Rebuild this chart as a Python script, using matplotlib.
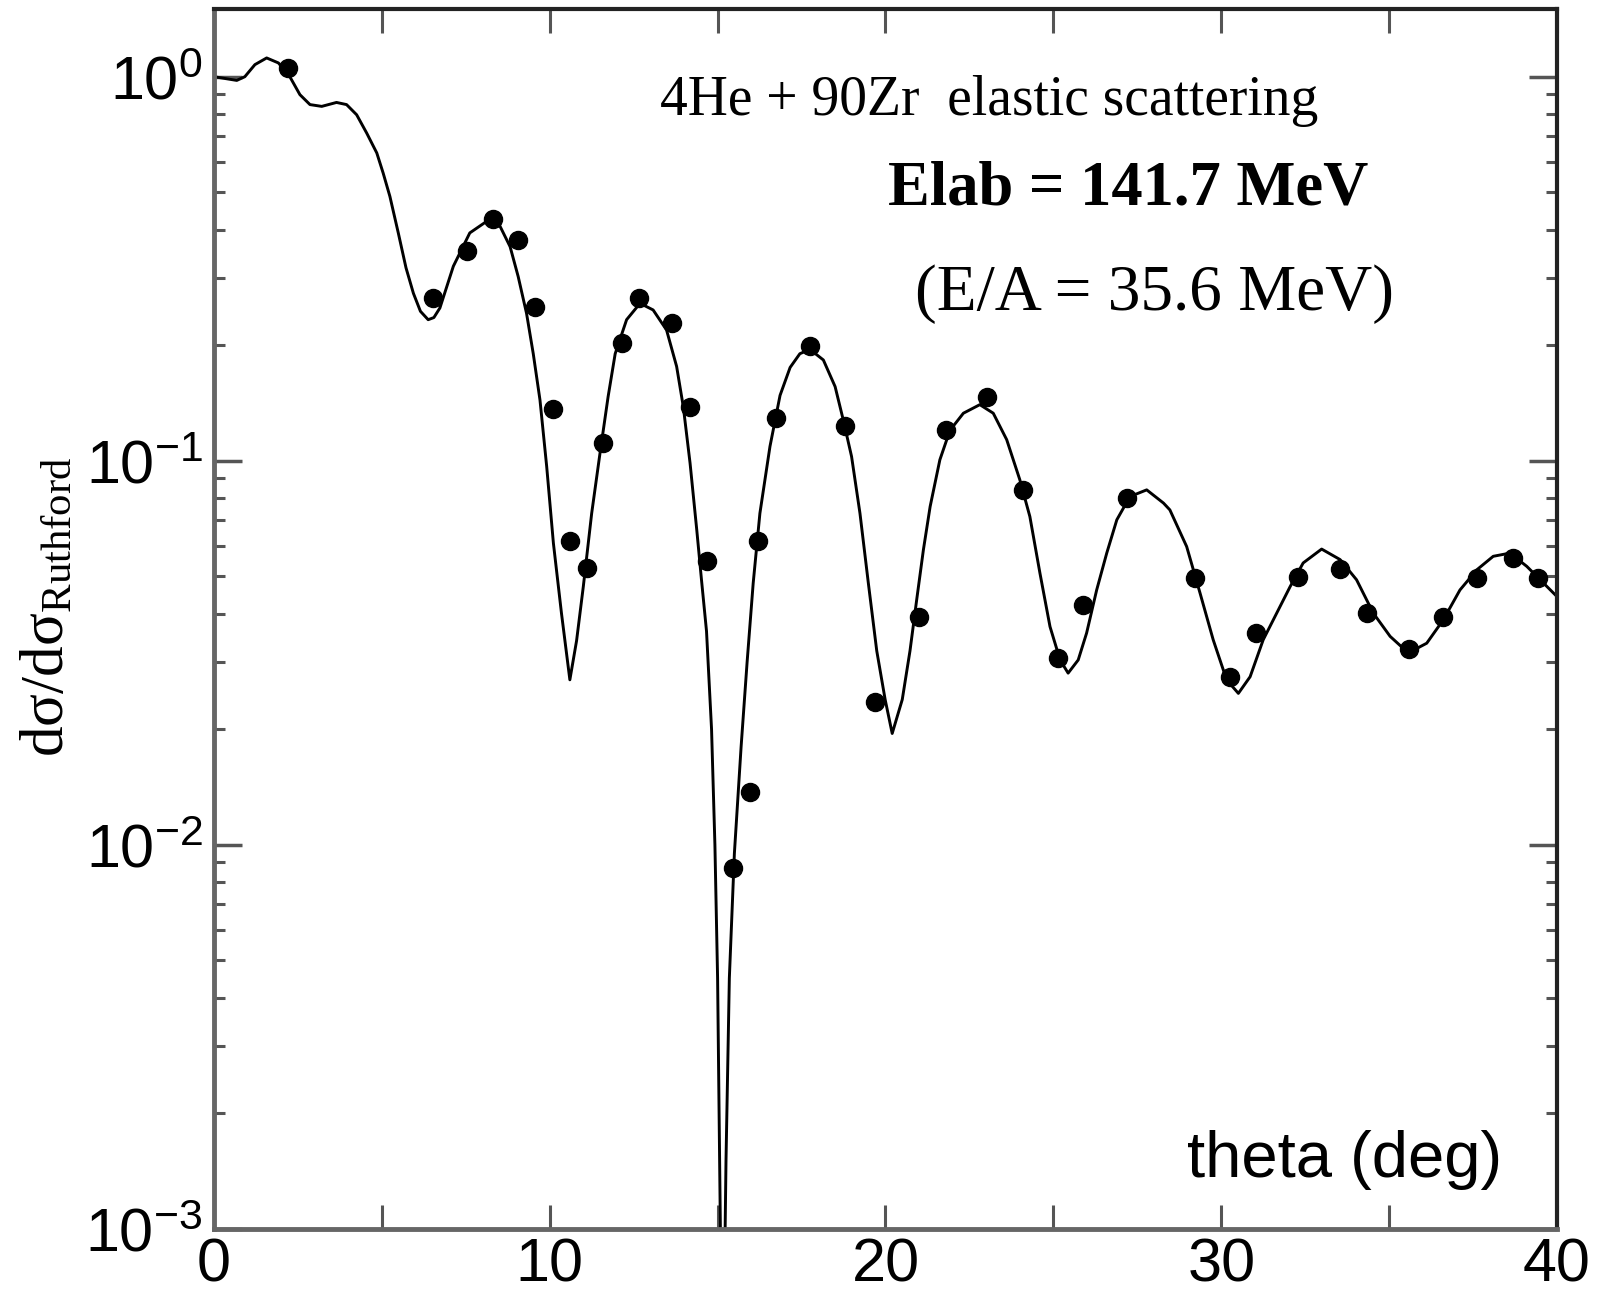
import matplotlib
matplotlib.use("Agg")
import matplotlib.pyplot as plt
from matplotlib.ticker import FixedLocator, FixedFormatter, NullFormatter

plt.rcParams['mathtext.fontset'] = 'custom'
plt.rcParams['mathtext.rm'] = 'Liberation Serif'
plt.rcParams['mathtext.it'] = 'Liberation Serif:italic'
plt.rcParams['mathtext.bf'] = 'Liberation Serif:bold'
plt.rcParams['mathtext.sf'] = 'Liberation Sans'

# experimental data (theta in deg, dsigma/dsigma_Ruthford)
theta_exp = [2.21, 6.53, 7.53, 8.32, 9.06, 9.56, 10.11, 10.60, 11.12, 11.60,
             12.14, 12.66, 13.65, 14.18, 14.67, 15.46, 15.96, 16.21, 16.73, 17.75,
             18.79, 19.70, 21.00, 21.80, 23.03, 24.10, 25.15, 25.89, 27.18, 29.22,
             30.26, 31.03, 32.30, 33.55, 34.33, 35.60, 36.61, 37.63, 38.68, 39.44]
sigma_exp = [1.054, 0.265, 0.351, 0.426, 0.376, 0.251, 0.136, 0.0617, 0.0525, 0.111,
             0.203, 0.265, 0.228, 0.138, 0.0547, 0.0087, 0.0137, 0.0617, 0.129, 0.199,
             0.123, 0.0236, 0.0393, 0.120, 0.147, 0.084, 0.0306, 0.042, 0.080, 0.0495,
             0.0274, 0.0356, 0.0498, 0.0522, 0.0401, 0.0324, 0.0393, 0.0495, 0.0558, 0.0495]

# calculated curve
theta_calc = [0.0, 0.68, 0.92, 1.22, 1.57, 1.92, 2.26, 2.56, 2.86, 3.21, 3.65, 3.95,
              4.25, 4.55, 4.85, 5.04, 5.24, 5.49, 5.72, 5.94, 6.15, 6.38, 6.55, 6.73,
              7.13, 7.62, 8.12, 8.52, 8.82, 9.06, 9.31, 9.51, 9.71, 9.91, 10.11, 10.35,
              10.50, 10.60, 10.80, 11.00, 11.25, 11.50, 11.74, 11.95, 12.29, 12.69,
              13.08, 13.48, 13.78, 13.98, 14.18, 14.38, 14.52, 14.67, 14.82, 14.92,
              15.00, 15.06, 15.15, 15.25, 15.35, 15.50, 15.70, 15.88, 16.06, 16.26,
              16.56, 16.86, 17.16, 17.45, 17.75, 18.15, 18.50, 18.74, 18.99, 19.24,
              19.49, 19.74, 19.99, 20.20, 20.50, 20.73, 20.93, 21.13, 21.33, 21.62,
              21.92, 22.32, 22.81, 23.21, 23.61, 24.00, 24.30, 24.60, 24.90, 25.20,
              25.44, 25.74, 25.99, 26.29, 26.59, 26.89, 27.28, 27.78, 28.28, 28.47,
              28.97, 29.37, 29.76, 30.16, 30.51, 30.86, 31.25, 31.65, 32.05, 32.44,
              32.99, 33.54, 34.03, 34.53, 35.03, 35.57, 36.12, 36.61, 37.11, 37.61,
              38.10, 38.60, 39.10, 39.60, 40.00]
sigma_calc = [1.0, 0.978, 1.0, 1.075, 1.119, 1.086, 1.0, 0.898, 0.846, 0.837, 0.857, 0.846,
              0.796, 0.713, 0.633, 0.561, 0.488, 0.392, 0.318, 0.273, 0.245, 0.233, 0.236, 0.25,
              0.321, 0.392, 0.42, 0.408, 0.361, 0.302, 0.242, 0.19, 0.144, 0.0966, 0.061, 0.0401,
              0.0316, 0.0269, 0.034, 0.047, 0.073, 0.105, 0.147, 0.19, 0.233, 0.257,
              0.247, 0.219, 0.176, 0.138, 0.0986, 0.066, 0.049, 0.036, 0.020, 0.010,
              0.0045, 0.0015, 0.0003, 0.0015, 0.0045, 0.0095, 0.018, 0.030, 0.048, 0.073,
              0.109, 0.148, 0.175, 0.19, 0.195, 0.183, 0.156, 0.128, 0.1026, 0.073,
              0.048, 0.032, 0.0239, 0.0195, 0.0239, 0.032, 0.0435, 0.0587, 0.076, 0.1006,
              0.12, 0.133, 0.14, 0.133, 0.1135, 0.0893, 0.0716, 0.051, 0.037, 0.0303,
              0.028, 0.0303, 0.0356, 0.0461, 0.0575, 0.0702, 0.0807, 0.084, 0.0776, 0.0745,
              0.0598, 0.0452, 0.0342, 0.0269, 0.0248, 0.0274, 0.0342, 0.0401, 0.047, 0.0542,
              0.0589, 0.0553, 0.049, 0.0401, 0.0349, 0.0316, 0.0335, 0.0385, 0.0461, 0.052,
              0.0564, 0.0575, 0.0531, 0.048, 0.0443]

x_ticks = [0, 10, 20, 30, 40]
x_minor = [5, 15, 25, 35]
y_ticks = [1e-3, 1e-2, 1e-1, 1e0]
y_labels = [r'$\mathsf{10^{-3}}$', r'$\mathsf{10^{-2}}$', r'$\mathsf{10^{-1}}$', r'$\mathsf{10^{0}}$']
x_labels = ['0', '10', '20', '30', '40']

fig = plt.figure(figsize=(16.05, 12.95), dpi=100)
ax = fig.add_axes([0.1333, 0.051, 0.8368, 0.942])

ax.plot(theta_calc, sigma_calc, color='black', lw=2.1, solid_joinstyle='round')
ax.plot(theta_exp, sigma_exp, 'o', color='black', ms=13, zorder=3)

ax.set_yscale('log')
ax.set_xlim(0, 40)
ax.set_ylim(1e-3, 1.5)

ax.xaxis.set_major_locator(FixedLocator(x_ticks))
ax.xaxis.set_major_formatter(FixedFormatter(x_labels))
ax.xaxis.set_minor_locator(FixedLocator(x_minor))
ax.yaxis.set_major_locator(FixedLocator(y_ticks))
ax.yaxis.set_major_formatter(FixedFormatter(y_labels))
ax.yaxis.set_minor_formatter(NullFormatter())

tick_col = '#555555'
ax.tick_params(axis='both', which='both', direction='in', top=True, right=True, color=tick_col)
ax.tick_params(axis='x', which='both', length=17, width=2.2, labelsize=44, pad=6,
               labelfontfamily='Liberation Sans')
ax.tick_params(axis='y', which='major', length=20, width=2.5, labelsize=44, pad=8)
ax.tick_params(axis='y', which='minor', length=8, width=2.2)

for s in ['left', 'bottom']:
    ax.spines[s].set_color('#666666')
    ax.spines[s].set_linewidth(3.5)
for s in ['top', 'right']:
    ax.spines[s].set_color('#222222')
    ax.spines[s].set_linewidth(3)

ax.set_ylabel(r'$\mathrm{d\sigma/d\sigma_{Ruthford}}$', fontsize=44)
ax.yaxis.set_label_coords(-0.103, 0.51)

ax.text(0.842, 0.0566, 'theta (deg)', transform=ax.transAxes, ha='center', va='center',
        fontsize=47, family='Liberation Sans')
ax.text(0.577, 0.913, '4He + 90Zr  elastic scattering', transform=ax.transAxes,
        ha='center', va='baseline', fontsize=40, family='Liberation Serif')
ax.text(0.681, 0.852, 'Elab = 141.7 MeV', transform=ax.transAxes, ha='center', va='center',
        fontsize=45, family='Liberation Serif', weight='bold')
ax.text(0.700, 0.766, '(E/A = 35.6 MeV)', transform=ax.transAxes, ha='center', va='center',
        fontsize=47, family='Liberation Serif')

fig.savefig('out.png', dpi=100)
